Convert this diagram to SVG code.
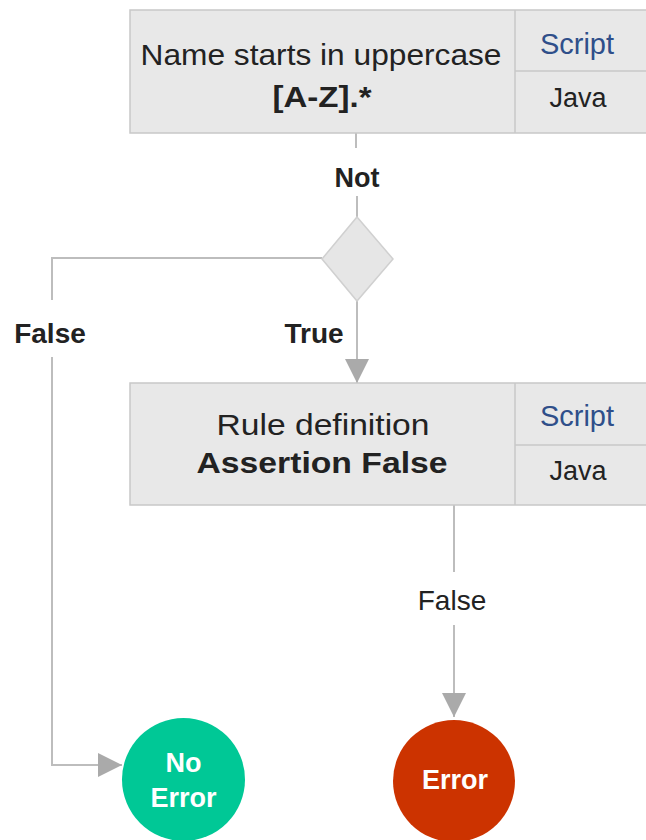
<svg xmlns="http://www.w3.org/2000/svg" width="646" height="840" viewBox="0 0 646 840">
<style>
.box{fill:#e8e8e8;stroke:#c8c8c8;stroke-width:1.5}
.div{stroke:#c8c8c8;stroke-width:1.5}
.t{font-family:"Liberation Sans",Arial,sans-serif;fill:#222;text-anchor:middle}
.b{font-weight:bold}
.blue{fill:#2f4f8a}
.w{fill:#fff;font-weight:bold}
.c{fill:none;stroke:#bdbdbd;stroke-width:2}
</style>
<defs>
<marker id="ah" markerUnits="userSpaceOnUse" markerWidth="24" markerHeight="24" refX="24" refY="12" orient="auto">
<path d="M0,0 L24,12 L0,24 z" fill="#aaaaaa"/>
</marker>
</defs>
<rect width="646" height="840" fill="#fff"/>
<g id="connectors">
<line class="c" x1="356" y1="133" x2="356" y2="148"/>
<line class="c" x1="357" y1="196" x2="357" y2="217"/>
<polyline class="c" points="322,258 52,258 52,300"/>
<polyline class="c" points="52,357 52,765 122,765" marker-end="url(#ah)"/>
<line class="c" x1="357" y1="301" x2="357" y2="383" marker-end="url(#ah)"/>
<line class="c" x1="454" y1="505" x2="454" y2="572"/>
<line class="c" x1="454" y1="625" x2="454" y2="717" marker-end="url(#ah)"/>
<text class="t b" x="357" y="187" font-size="27">Not</text>
<text class="t b" x="50" y="343" font-size="28">False</text>
<text class="t b" x="314" y="343" font-size="28">True</text>
<text class="t" x="452" y="610" font-size="28">False</text>
</g>
<g id="node-name">
<rect class="box" x="130" y="10" width="530" height="123"/>
<line class="div" x1="515" y1="10" x2="515" y2="133"/>
<line class="div" x1="515" y1="71" x2="646" y2="71"/>
<text class="t" x="321" y="65" font-size="30" textLength="361" lengthAdjust="spacingAndGlyphs">Name starts in uppercase</text>
<text class="t b" x="322" y="107" font-size="30" textLength="99" lengthAdjust="spacingAndGlyphs">[A-Z].*</text>
<text class="t blue" x="577" y="54" font-size="29">Script</text>
<text class="t" x="578" y="107" font-size="27">Java</text>
</g>
<g id="node-decision">
<polygon points="357,217 393,259 357,301 322,259" fill="#e6e6e6" stroke="#d0d0d0" stroke-width="1.5"/>
</g>
<g id="node-rule">
<rect class="box" x="130" y="383" width="530" height="122"/>
<line class="div" x1="515" y1="383" x2="515" y2="505"/>
<line class="div" x1="515" y1="445" x2="646" y2="445"/>
<text class="t" x="323" y="435" font-size="30" textLength="213" lengthAdjust="spacingAndGlyphs">Rule definition</text>
<text class="t b" x="322" y="473" font-size="30" textLength="251" lengthAdjust="spacingAndGlyphs">Assertion False</text>
<text class="t blue" x="577" y="426" font-size="29">Script</text>
<text class="t" x="578" y="480" font-size="27">Java</text>
</g>
<g id="node-noerror">
<circle cx="183.5" cy="779.5" r="61.5" fill="#00c896"/>
<text class="t w" x="183.5" y="772" font-size="27">No</text>
<text class="t w" x="183.5" y="807" font-size="27">Error</text>
</g>
<g id="node-error">
<circle cx="454" cy="781" r="61" fill="#cc3300"/>
<text class="t w" x="455" y="789" font-size="27">Error</text>
</g>
</svg>
